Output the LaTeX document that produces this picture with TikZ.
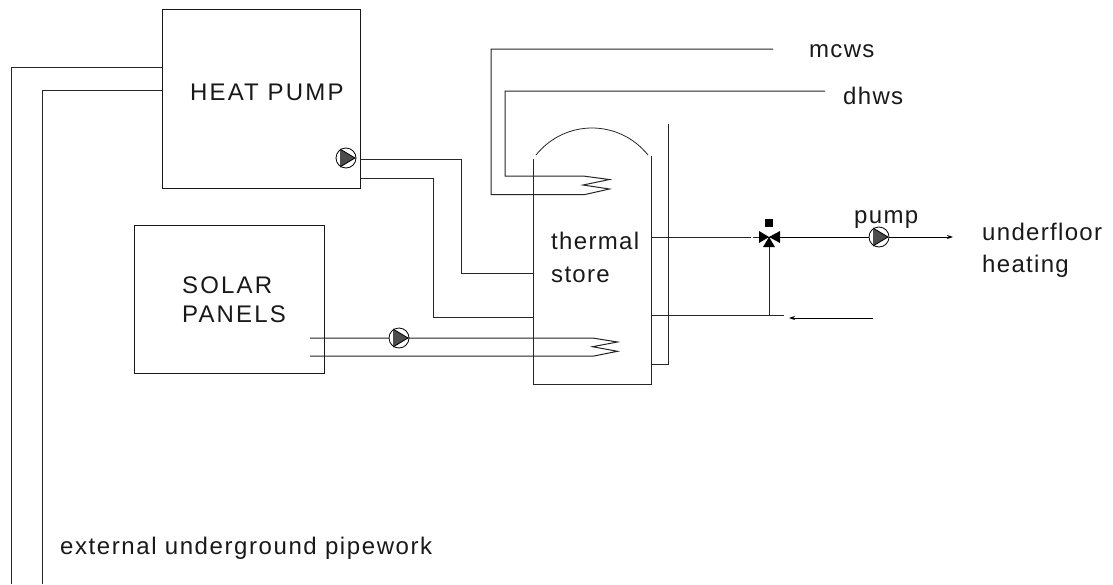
\documentclass[tikz,border=0pt]{standalone}
\usepackage{fontspec}
\setmainfont{Liberation Sans}
\newfontfamily\spacedfont[LetterSpace=5.5]{Liberation Sans}
\newfontfamily\widefont[LetterSpace=6.6]{Liberation Sans}
\newfontfamily\capsfont[LetterSpace=9]{Liberation Sans}
\usetikzlibrary{arrows.meta}
\tikzset{
  pipe/.style={draw=black!85,line width=1pt},
  box/.style={draw=black!90,line width=1pt,minimum width=0pt,inner sep=0pt,anchor=north west},
  pumpc/.style={circle,draw=black,fill=white,line width=.8pt,minimum size=20pt,inner sep=0pt},
  lab/.style={inner sep=0pt,anchor=base west,font=\spacedfont\fontsize{24}{28}\selectfont,text=black!90},
  widelab/.style={inner sep=0pt,anchor=base west,font=\widefont\fontsize{24}{28}\selectfont,text=black!90},
  caplab/.style={inner sep=0pt,anchor=base west,font=\capsfont\fontsize{24}{28}\selectfont,text=black!90},
  flow/.style={-{Stealth[length=6pt,width=4pt]},draw=black,line width=.9pt},
  vtri/.style={fill=black,draw=none}
}
\newcommand{\pumpsym}[1]{%
  \fill[black!70] ([shift={(-6,-9)}]#1.center) -- ([shift={(9,0)}]#1.center) -- ([shift={(-6,9)}]#1.center) -- cycle;
  \draw[black,line width=.8pt] ([shift={(-6,-9)}]#1.center) -- ([shift={(9,0)}]#1.center) -- ([shift={(-6,9)}]#1.center);
}
\begin{document}
\begin{tikzpicture}[x=1pt,y=-1pt]
\useasboundingbox[fill=white] (0,0) rectangle (1113,584);
% boxes
\node[box,minimum width=198pt,minimum height=179pt] (hp) at (162,9) {};
\node[box,minimum width=190pt,minimum height=148pt] (solar) at (134,225) {};
% external pipework
\coordinate (e1) at (11.5,584); \coordinate (e1a) at (11.5,67); \coordinate (e1b) at (162,67);
\coordinate (e2) at (42,584); \coordinate (e2a) at (42,90); \coordinate (e2b) at (162,90);
\draw[pipe] (e1) -- (e1a) -- (e1b);
\draw[pipe] (e2) -- (e2a) -- (e2b);
% tank
\coordinate (tl) at (533.5,159); \coordinate (tbl) at (533.5,384); \coordinate (tbr) at (651,384); \coordinate (tr) at (651,156);
\draw[pipe] (tl) -- (tbl) -- (tbr) -- (tr);
\coordinate (al) at (536,155); \coordinate (ar) at (648,155);
\draw[pipe,line width=.8pt] (al) .. controls (565,119) and (619,119) .. (ar);
% jacket
\coordinate (j1) at (668.5,124); \coordinate (j2) at (668.5,364); \coordinate (j3) at (651,364);
\draw[pipe] (j1) -- (j2) -- (j3);
% heat pump flow
\coordinate (a1) at (360,159); \coordinate (a2) at (461,159); \coordinate (a3) at (461,273); \coordinate (a4) at (533.5,273);
\coordinate (b1) at (360,178); \coordinate (b2) at (433,178); \coordinate (b3) at (433,317); \coordinate (b4) at (533.5,317);
\draw[pipe] (a1) -- (a2) -- (a3) -- (a4);
\draw[pipe] (b1) -- (b2) -- (b3) -- (b4);
% domestic coil
\coordinate (m0) at (773,49); \coordinate (m1) at (491,49); \coordinate (m2) at (491,194.5);
\coordinate (d0) at (825,91); \coordinate (d1) at (505,91); \coordinate (d2) at (505,176);
\draw[pipe] (m0) -- (m1) -- (m2) -- (585,194.5) -- (609.5,189) -- (583,185) -- (609.5,179.5) -- (583,176) -- (d2) -- (d1) -- (d0);
% solar coil
\coordinate (s1) at (310,338); \coordinate (s2) at (310,356);
\draw[pipe] (s1) -- (592.5,338) -- (617.5,342) -- (592.5,346.7) -- (617.5,351.3) -- (594,356) -- (s2);
% valve
\coordinate (v) at (769,237);
\coordinate (o1) at (651,237); \coordinate (o2) at (751,237); \coordinate (o3) at (752.5,237);
\coordinate (o4) at (953,237);
\coordinate (r1) at (651,315); \coordinate (r2) at (784,315); \coordinate (r3) at (769,315);
\coordinate (r4) at (873,318); \coordinate (r5) at (789,318);
\draw[pipe] (o1) -- (o2);
\draw[pipe] (o3) -- (v);
\draw[pipe] (v) -- (r3);
\draw[pipe] (r1) -- (r2);
\draw[flow] (r4) -- (r5);
\draw[flow] (v) -- (o4);
\fill[vtri] (v) -- (759,231) -- (759,243) -- cycle;
\fill[vtri] (v) -- (780,231) -- (780,243) -- cycle;
\fill[vtri] (v) -- (763,247) -- (775,247) -- cycle;
\node[fill=black,minimum size=8pt,inner sep=0pt] (act) at (769,223) {};
% pumps
\node[pumpc] (p1) at (346,158) {};
\node[pumpc] (p2) at (399,338) {};
\node[pumpc] (p3) at (879,237) {};
\pumpsym{p1}\pumpsym{p2}\pumpsym{p3}
% labels
\node[caplab] (t1) at (190,100) {HEAT PUMP};
\node[caplab] (t2) at (182,293) {SOLAR};
\node[caplab] (t3) at (182,322) {PANELS};
\node[lab] (t4) at (551,249) {thermal};
\node[lab] (t5) at (551,282) {store};
\node[lab] (t6) at (809,57) {mcws};
\node[lab] (t7) at (843,104) {dhws};
\node[lab] (t8) at (854,223) {pump};
\node[lab] (t9) at (982,240) {underfloor};
\node[lab] (t10) at (982,272) {heating};
\node[widelab] (t11) at (60,554) {external underground pipework};
\end{tikzpicture}
\end{document}
